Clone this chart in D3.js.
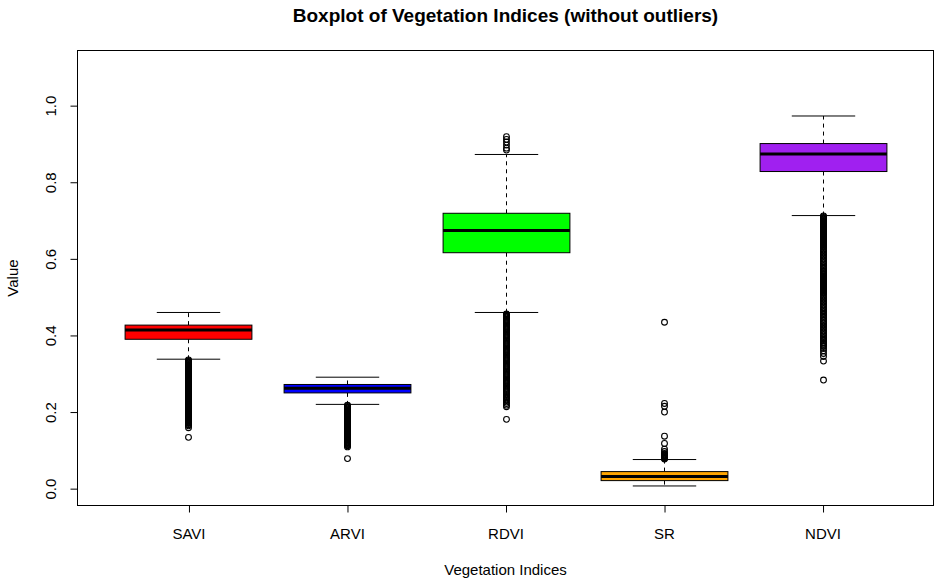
<!DOCTYPE html>
<html>
<head>
<meta charset="utf-8">
<script src="https://cdn.jsdelivr.net/npm/d3@7"></script>
<style>
  html, body { margin: 0; padding: 0; background: #fff; }
  svg { display: block; font-family: "Liberation Sans", Arial, sans-serif; }
</style>
</head>
<body>
<svg id="chart" width="939" height="582"></svg>
<script>
// ---- data ----
const categories = ["SAVI", "ARVI", "RDVI", "SR", "NDVI"];
const boxColors = ["#FF0000", "#0000FF", "#00FF00", "#FFA500", "#A020F0"];
const lowerWhisker = [0.338, 0.220, 0.460, 0.007, 0.713];
const q1 = [0.390, 0.250, 0.616, 0.021, 0.828];
const median = [0.414, 0.262, 0.674, 0.032, 0.874];
const q3 = [0.427, 0.272, 0.719, 0.0445, 0.901];
const upperWhisker = [0.460, 0.291, 0.8725, 0.076, 0.973];

const outliersSAVI = [0.134, 0.159, 0.164, 0.167, 0.170,
  0.172, 0.174, 0.176, 0.178, 0.180, 0.182, 0.184, 0.186, 0.188, 0.190,
  0.192, 0.194, 0.196, 0.198, 0.200, 0.202, 0.204, 0.206, 0.208, 0.210,
  0.212, 0.214, 0.216, 0.218, 0.220, 0.222, 0.224, 0.226, 0.228, 0.230,
  0.232, 0.234, 0.236, 0.238, 0.240, 0.242, 0.244, 0.246, 0.248, 0.250,
  0.252, 0.254, 0.256, 0.258, 0.260, 0.262, 0.264, 0.266, 0.268, 0.270,
  0.272, 0.274, 0.276, 0.278, 0.280, 0.282, 0.284, 0.286, 0.288, 0.290,
  0.292, 0.294, 0.296, 0.298, 0.300, 0.302, 0.304, 0.306, 0.308, 0.310,
  0.312, 0.314, 0.316, 0.318, 0.320, 0.322, 0.324, 0.326, 0.328, 0.330,
  0.332, 0.334, 0.336];
const outliersARVI = [0.0785, 0.109, 0.112, 0.114,
  0.116, 0.118, 0.120, 0.122, 0.124, 0.126, 0.128, 0.130, 0.132, 0.134,
  0.136, 0.138, 0.140, 0.142, 0.144, 0.146, 0.148, 0.150, 0.152, 0.154,
  0.156, 0.158, 0.160, 0.162, 0.164, 0.166, 0.168, 0.170, 0.172, 0.174,
  0.176, 0.178, 0.180, 0.182, 0.184, 0.186, 0.188, 0.190, 0.192, 0.194,
  0.196, 0.198, 0.200, 0.202, 0.204, 0.206, 0.208, 0.210, 0.212, 0.214,
  0.216, 0.218];
const outliersRDVI = [0.181, 0.214, 0.218, 0.222, 0.226, 0.230, 0.234, 0.237, 0.240, 0.243, 0.246,
  0.250, 0.253, 0.256, 0.259, 0.262, 0.265, 0.268, 0.271, 0.274, 0.277,
  0.280, 0.283, 0.286, 0.289, 0.292, 0.295, 0.298, 0.301, 0.304, 0.307,
  0.310, 0.313, 0.316, 0.319, 0.322, 0.325, 0.328, 0.331, 0.334, 0.337,
  0.340, 0.343, 0.346, 0.349, 0.352, 0.355, 0.358, 0.361, 0.364, 0.367,
  0.370, 0.373, 0.376, 0.379, 0.382, 0.385, 0.388, 0.391, 0.394, 0.397,
  0.400, 0.403, 0.406, 0.409, 0.412, 0.415, 0.418, 0.421, 0.424, 0.427,
  0.430, 0.433, 0.436, 0.439, 0.442, 0.445, 0.448, 0.450, 0.452, 0.454, 0.456,
  0.884, 0.889, 0.897, 0.905, 0.912, 0.919];
const outliersSR = [0.0775, 0.079, 0.0805, 0.082, 0.0835, 0.085, 0.0865, 0.088, 0.090, 0.092,
  0.097, 0.103, 0.118, 0.137, 0.200, 0.215, 0.2225, 0.4345];
const outliersNDVI = [0.2835, 0.333, 0.345, 0.353, 0.360, 0.366, 0.371, 0.374, 0.377, 0.380,
  0.382, 0.386, 0.390, 0.394, 0.398, 0.402, 0.406, 0.410, 0.414, 0.418,
  0.422, 0.426, 0.430, 0.434, 0.438, 0.442, 0.446, 0.450, 0.454, 0.458,
  0.462, 0.466, 0.470, 0.474, 0.478, 0.482, 0.486, 0.490, 0.494, 0.498,
  0.502, 0.506, 0.510,
  0.512, 0.514, 0.516, 0.518, 0.520, 0.522, 0.524, 0.526, 0.528, 0.530,
  0.532, 0.534, 0.536, 0.538, 0.540, 0.542, 0.544, 0.546, 0.548, 0.550,
  0.552, 0.554, 0.556, 0.558, 0.560, 0.562, 0.564, 0.566, 0.568, 0.570,
  0.574, 0.578, 0.582, 0.586, 0.590, 0.594, 0.598, 0.602, 0.606, 0.610,
  0.614, 0.618, 0.622, 0.626, 0.630,
  0.632, 0.634, 0.636, 0.638, 0.640, 0.642, 0.644, 0.646, 0.648, 0.650,
  0.652, 0.654, 0.656, 0.658, 0.660, 0.662, 0.664, 0.666, 0.668, 0.670,
  0.672, 0.674, 0.676, 0.678, 0.680, 0.682, 0.684, 0.686, 0.688, 0.690,
  0.692, 0.694, 0.696, 0.698, 0.700, 0.702, 0.704, 0.706, 0.708, 0.710, 0.712];
const outliers = [outliersSAVI, outliersARVI, outliersRDVI, outliersSR, outliersNDVI];

const yTicks = [0.0, 0.2, 0.4, 0.6, 0.8, 1.0];
const yLimits = [0, 1.1];
const titleText = "Boxplot of Vegetation Indices (without outliers)";
const xLabel = "Vegetation Indices";
const yLabel = "Value";

// ---- layout ----
const svg = d3.select("#chart");
const plot = { left: 77.5, right: 933.5, top: 50.5, bottom: 505.5 };
const n = categories.length;
const unit = (plot.right - plot.left) / (n + 0.4);
const ext = 0.04 * (yLimits[1] - yLimits[0]);

const x = d3.scalePoint()
  .domain(categories)
  .range([plot.left + 0.7 * unit, plot.right - 0.7 * unit]);
const y = d3.scaleLinear()
  .domain([yLimits[0] - ext, yLimits[1] + ext])
  .range([plot.bottom, plot.top]);

const boxW = 0.8 * unit;
const capW = boxW / 2;

const boxes = categories.map((c, i) => ({
  cat: c, color: boxColors[i], lo: lowerWhisker[i], q1: q1[i], med: median[i],
  q3: q3[i], hi: upperWhisker[i], out: outliers[i]
}));

const g = svg.append("g");

boxes.forEach(b => {
  const cx = Math.round(x(b.cat)) + 0.5;
  const gb = g.append("g");
  gb.append("line").attr("x1", cx).attr("x2", cx)
    .attr("y1", y(b.q3)).attr("y2", y(b.hi))
    .attr("stroke", "#000").attr("stroke-dasharray", "4,4");
  gb.append("line").attr("x1", cx).attr("x2", cx)
    .attr("y1", y(b.q1)).attr("y2", y(b.lo))
    .attr("stroke", "#000").attr("stroke-dasharray", "4,4");
  [b.hi, b.lo].forEach(v => {
    gb.append("line").attr("x1", cx - capW / 2).attr("x2", cx + capW / 2)
      .attr("y1", y(v)).attr("y2", y(v)).attr("stroke", "#000");
  });
  gb.append("rect")
    .attr("x", cx - boxW / 2).attr("width", boxW)
    .attr("y", y(b.q3)).attr("height", y(b.q1) - y(b.q3))
    .attr("fill", b.color).attr("stroke", "#000").attr("stroke-width", 1);
  gb.append("line").attr("x1", cx - boxW / 2).attr("x2", cx + boxW / 2)
    .attr("y1", y(b.med)).attr("y2", y(b.med))
    .attr("stroke", "#000").attr("stroke-width", 3);
  gb.selectAll("circle").data(b.out).join("circle")
    .attr("cx", cx).attr("cy", d => y(d)).attr("r", 2.9)
    .attr("fill", "none").attr("stroke", "#000").attr("stroke-width", 1.1);
});

// frame
svg.append("rect")
  .attr("x", plot.left).attr("y", plot.top)
  .attr("width", plot.right - plot.left).attr("height", plot.bottom - plot.top)
  .attr("fill", "none").attr("stroke", "#000").attr("stroke-width", 1);

// x axis
const xAxis = svg.append("g")
  .attr("transform", `translate(0,${plot.bottom})`)
  .call(d3.axisBottom(x).tickSize(7).tickSizeOuter(0).tickPadding(16));
xAxis.select(".domain").remove();
xAxis.selectAll(".tick line").attr("transform", "translate(0.5,0)");
xAxis.selectAll("text").attr("font-size", 15).attr("fill", "#000")
  .attr("font-family", "'Liberation Sans', Arial, sans-serif");

// y axis
const yAxis = svg.append("g")
  .attr("transform", `translate(${plot.left},0)`)
  .call(d3.axisLeft(y).tickValues(yTicks).tickFormat(d3.format(".1f")).tickSize(7).tickSizeOuter(0));
yAxis.select(".domain").remove();
yAxis.selectAll(".tick text")
  .attr("x", null).attr("dy", null)
  .attr("transform", "translate(-22,0) rotate(-90)")
  .attr("text-anchor", "middle")
  .attr("font-size", 15).attr("fill", "#000")
  .attr("font-family", "'Liberation Sans', Arial, sans-serif");

// title & labels
svg.append("text")
  .attr("x", (plot.left + plot.right) / 2).attr("y", 22)
  .attr("text-anchor", "middle").attr("font-weight", "bold").attr("font-size", 19)
  .text(titleText);
svg.append("text")
  .attr("x", (plot.left + plot.right) / 2).attr("y", 575)
  .attr("text-anchor", "middle").attr("font-size", 15)
  .text(xLabel);
svg.append("text")
  .attr("transform", `translate(18,${(plot.top + plot.bottom) / 2}) rotate(-90)`)
  .attr("text-anchor", "middle").attr("font-size", 15)
  .text(yLabel);
</script>
</body>
</html>
